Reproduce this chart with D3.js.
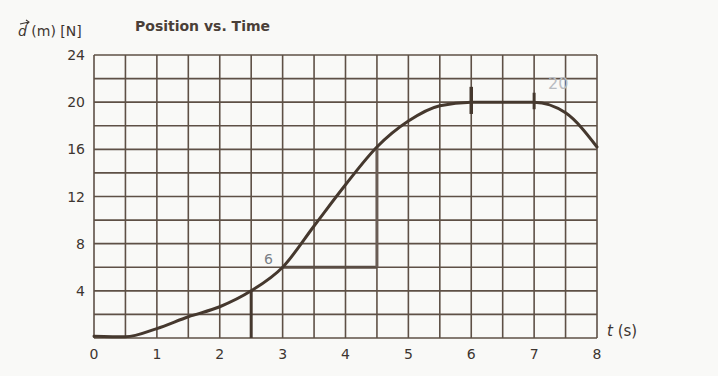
<!DOCTYPE html>
<html><head><meta charset="utf-8">
<script src="https://cdn.jsdelivr.net/npm/d3@7"></script>
<style>body{margin:0;background:#f9f9f7;}svg{display:block;}</style>
</head><body>
<svg id="c" width="718" height="376"></svg>
<script>
const times = [0, 0.5, 1, 1.5, 2, 2.5, 3, 3.5, 4, 4.5, 5, 5.5, 6, 6.5, 7, 7.5, 8];
const positions = [0.15, 0.1, 0.8, 1.8, 2.65, 4.0, 6.0, 9.5, 13.0, 16.2, 18.4, 19.7, 20, 20, 20, 19.1, 16.2];
const xTicks = [0, 1, 2, 3, 4, 5, 6, 7, 8];
const yTicks = [4, 8, 12, 16, 20, 24];
const title = "Position vs. Time";
const yLabel = "(m) [N]";
const xLabel = "(s)";

const svg = d3.select("#c");
const x = d3.scaleLinear().domain([0, 8]).range([94, 597]);
const y = d3.scaleLinear().domain([0, 24]).range([338, 55]);
const ink = "#45382e";
const grid = "#5e5046";

// grid
const g = svg.append("g");
g.selectAll(".vx").data(d3.range(0, 8.01, 0.5)).join("line")
  .attr("x1", d => x(d)).attr("x2", d => x(d)).attr("y1", y(0)).attr("y2", y(24))
  .attr("stroke", grid).attr("stroke-width", 1.6);
g.selectAll(".hy").data(d3.range(0, 24.01, 2)).join("line")
  .attr("x1", x(0)).attr("x2", x(8)).attr("y1", d => y(d)).attr("y2", d => y(d))
  .attr("stroke", grid).attr("stroke-width", 1.6);

// axis tick labels
svg.append("g").selectAll("text").data(yTicks).join("text")
  .attr("x", 85).attr("y", d => y(d) + 5).attr("text-anchor", "end")
  .attr("font-family", "DejaVu Sans").attr("font-size", 14).attr("fill", "#3d3530").text(d => d);
svg.append("g").selectAll("text").data(xTicks).join("text")
  .attr("x", d => x(d)).attr("y", 359).attr("text-anchor", "middle")
  .attr("font-family", "DejaVu Sans").attr("font-size", 14).attr("fill", "#3d3530").text(d => d);

// titles
svg.append("text").attr("x", 135).attr("y", 31).attr("font-family", "DejaVu Sans")
  .attr("font-weight", "bold").attr("font-size", 14).attr("fill", "#4a3f38").text(title);
svg.append("text").attr("x", 18).attr("y", 36).attr("font-family", "DejaVu Sans")
  .attr("font-size", 14).attr("fill", "#3d3530")
  .html('<tspan font-style="italic">d</tspan> ' + yLabel);
// vector arrow over d
svg.append("path").attr("d", "M20,24 L29,22 M26,20 L29,22 L26.5,24.5")
  .attr("fill", "none").attr("stroke", "#3d3530").attr("stroke-width", 1.1);
svg.append("text").attr("x", 607).attr("y", 336).attr("font-family", "DejaVu Sans")
  .attr("font-size", 15).attr("fill", "#3d3530")
  .html('<tspan font-style="italic">t</tspan> ' + xLabel);

// construction lines
const seg = (x1, y1, x2, y2, w, c) => svg.append("line")
  .attr("x1", x(x1)).attr("y1", y(y1)).attr("x2", x(x2)).attr("y2", y(y2))
  .attr("stroke", c || ink).attr("stroke-width", w);
seg(2.5, 0, 2.5, 4, 3);
seg(3, 6, 4.5, 6, 3, "#5a4d44");
seg(4.5, 6, 4.5, 16.2, 3, "#6a5d55");
seg(6, 19, 6, 21.3, 3.5);
seg(7, 19.4, 7, 20.8, 3);

// curve
const line = d3.line().x((d, i) => x(times[i])).y(d => y(d)).curve(d3.curveMonotoneX);
svg.append("path").attr("d", line(positions)).attr("fill", "none")
  .attr("stroke", ink).attr("stroke-width", 3).attr("stroke-linecap", "round");

// handwritten annotations
svg.append("text").attr("x", 264).attr("y", 264).attr("font-family", "DejaVu Sans")
  .attr("font-size", 14).attr("fill", "#7a7f86").text("6");
svg.append("text").attr("x", 548).attr("y", 89).attr("font-family", "DejaVu Sans")
  .attr("font-size", 16).attr("fill", "#b8bcc2").text("20");
</script>
</body></html>
